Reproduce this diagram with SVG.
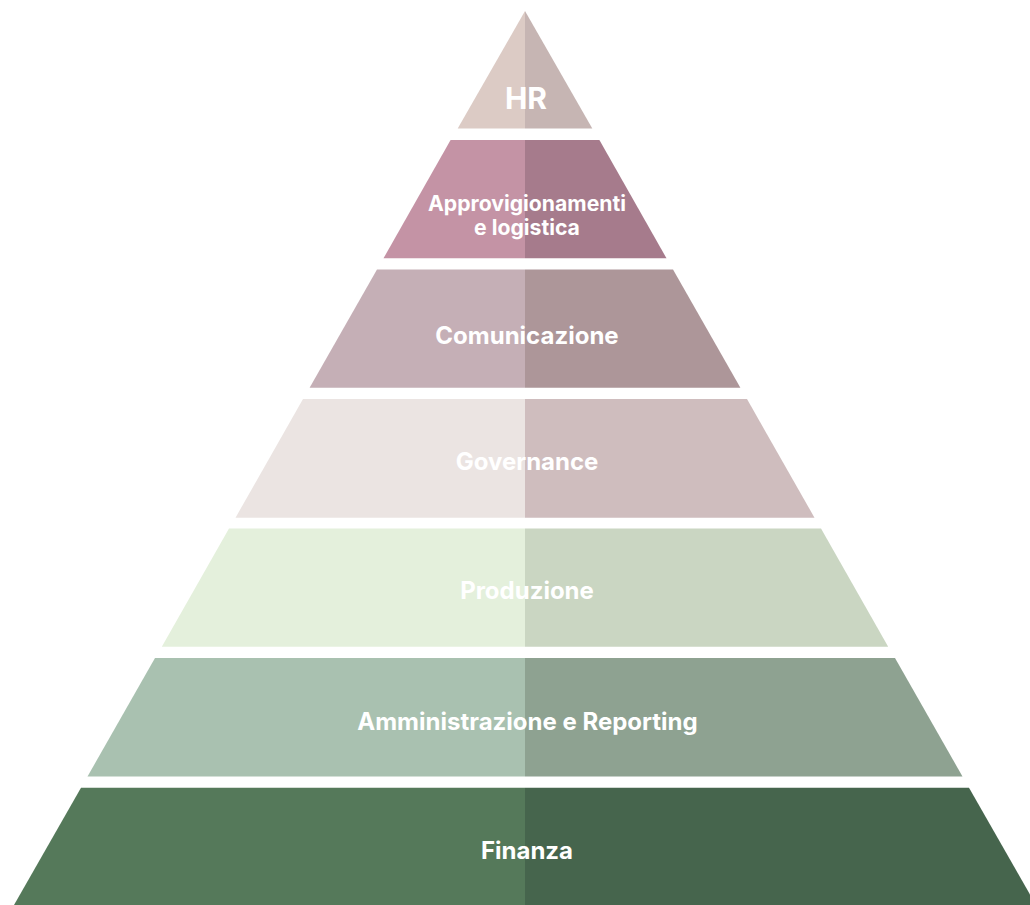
<svg xmlns="http://www.w3.org/2000/svg" width="1030" height="905" viewBox="0 0 1030 905">
<style>
text{font-family:Inter,"Noto Sans","Liberation Sans",sans-serif;font-weight:700;fill:#ffffff;text-anchor:middle}
.t{font-size:24px}
.s{font-size:21.2px}
</style>
<rect width="1030" height="905" fill="#ffffff"/>
<g id="hr">
<polygon points="525,11 457.7,128.5 525,128.5" fill="#dccbc5"/>
<polygon points="525,11 592.3,128.5 525,128.5" fill="#c6b5b3"/>
<text x="526" y="108.5" style="font-size:30px">HR</text>
</g>
<g id="approvvigionamenti">
<polygon points="525,140 450.6,140 383.5,258.3 525,258.3" fill="#c493a5"/>
<polygon points="525,140 599.4,140 666.5,258.3 525,258.3" fill="#a67b8c"/>
<text class="s" x="527" y="211">Approvigionamenti</text>
<text class="s" x="527" y="235">e logistica</text>
</g>
<g id="comunicazione">
<polygon points="525,269.5 377,269.5 309.6,387.7 525,387.7" fill="#c5afb6"/>
<polygon points="525,269.5 673,269.5 740.4,387.7 525,387.7" fill="#ad9699"/>
<text class="t" x="527" y="344.3">Comunicazione</text>
</g>
<g id="governance">
<polygon points="525,399 303,399 235.5,517.7 525,517.7" fill="#ebe4e2"/>
<polygon points="525,399 747,399 814.5,517.7 525,517.7" fill="#cfbdbe"/>
<text class="t" x="527" y="470">Governance</text>
</g>
<g id="produzione">
<polygon points="525,528.5 229,528.5 161.8,646.8 525,646.8" fill="#e4f0dc"/>
<polygon points="525,528.5 821,528.5 888.2,646.8 525,646.8" fill="#cad6c2"/>
<text class="t" x="527" y="599">Produzione</text>
</g>
<g id="amministrazione">
<polygon points="525,658 155,658 87.5,776.5 525,776.5" fill="#a9c1b0"/>
<polygon points="525,658 895,658 962.5,776.5 525,776.5" fill="#8ea291"/>
<text class="t" x="527.5" y="730">Amministrazione e Reporting</text>
</g>
<g id="finanza">
<polygon points="525,787.7 81,787.7 14,905 525,905" fill="#55795a"/>
<polygon points="525,787.7 969,787.7 1036,905 525,905" fill="#46654d"/>
<text class="t" x="527" y="859">Finanza</text>
</g>
<g id="connectors"/>
</svg>
